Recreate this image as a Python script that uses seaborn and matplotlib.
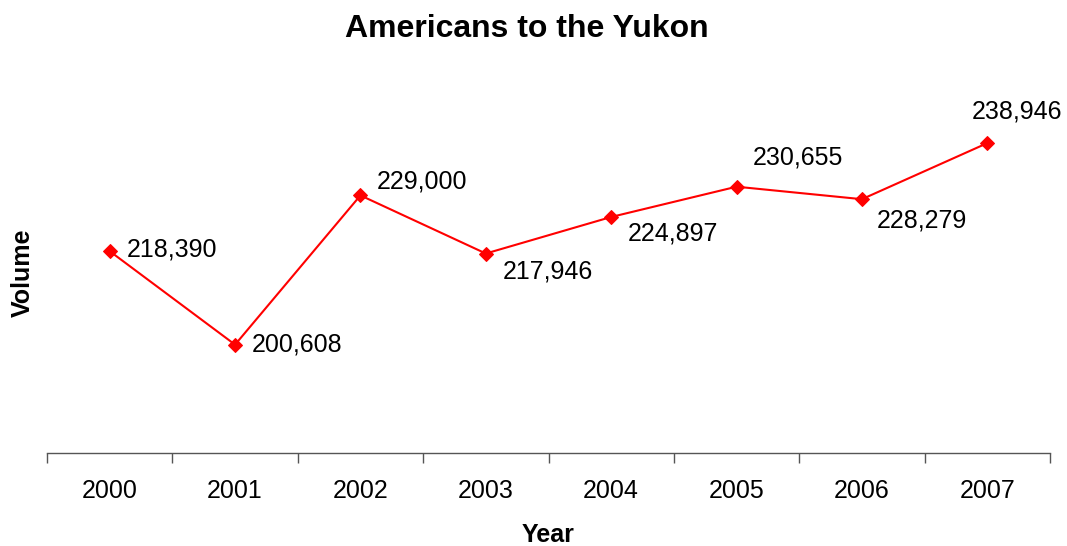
import matplotlib
matplotlib.use("Agg")
import matplotlib.pyplot as plt
import seaborn as sns
import pandas as pd
import numpy as np

years = ["2000", "2001", "2002", "2003", "2004", "2005", "2006", "2007"]
volumes = [218390, 200608, 229000, 217946, 224897, 230655, 228279, 238946]

# value label offsets in points (dx, dy) from each marker
label_offsets = [(12, 1), (12, 0), (12, 10), (12, -13), (12, -12), (12, 21), (11, -15), (-11, 23)]

sns.set_theme(style="white")
plt.rcParams["font.family"] = ["Liberation Sans", "DejaVu Sans"]

df = pd.DataFrame({"Year": years, "Volume": volumes})
df["pos"] = np.arange(len(years))

fig = plt.figure(figsize=(10.67, 5.46), dpi=100)
ax = fig.add_axes([47 / 1067, 1 - 453 / 546, (1050 - 47) / 1067, (453 - 85) / 546])

sns.lineplot(data=df, x="pos", y="Volume", ax=ax, color="#ff0000", linewidth=1.5,
             marker="D", markersize=7, markeredgecolor="#ff0000", markerfacecolor="#ff0000")

for (i, v), (dx, dy) in zip(enumerate(volumes), label_offsets):
    ax.annotate(f"{v:,}", (i, v), xytext=(dx, dy), textcoords="offset points",
                ha="left", va="center", fontsize=18, color="black")

ax.set_xlim(-0.5, len(years) - 0.5)
ax.set_ylim(180000, 250000)
ax.set_xticks(range(len(years)))
ax.set_xticklabels(years, fontsize=18, color="black")
ax.set_xticks(np.arange(-0.5, len(years)), minor=True)
ax.tick_params(axis="x", which="major", length=0, pad=19)
ax.tick_params(axis="x", which="minor", length=7, width=1, color="#555555", direction="out", bottom=True)
ax.set_yticks([])

for side in ["top", "right", "left"]:
    ax.spines[side].set_visible(False)
ax.spines["bottom"].set_color("#555555")
ax.spines["bottom"].set_linewidth(1)

ax.set_xlabel("Year", fontsize=18, fontweight="bold", color="black", labelpad=14)
ax.set_ylabel("Volume", fontsize=18, fontweight="bold", color="black")
ax.yaxis.set_label_coords(-0.012, 0.49)

fig.suptitle("Americans to the Yukon", x=0.494, y=0.975, va="top",
             fontsize=23, fontweight="bold", color="black")

fig.savefig("out.png", dpi=100, facecolor="white")
